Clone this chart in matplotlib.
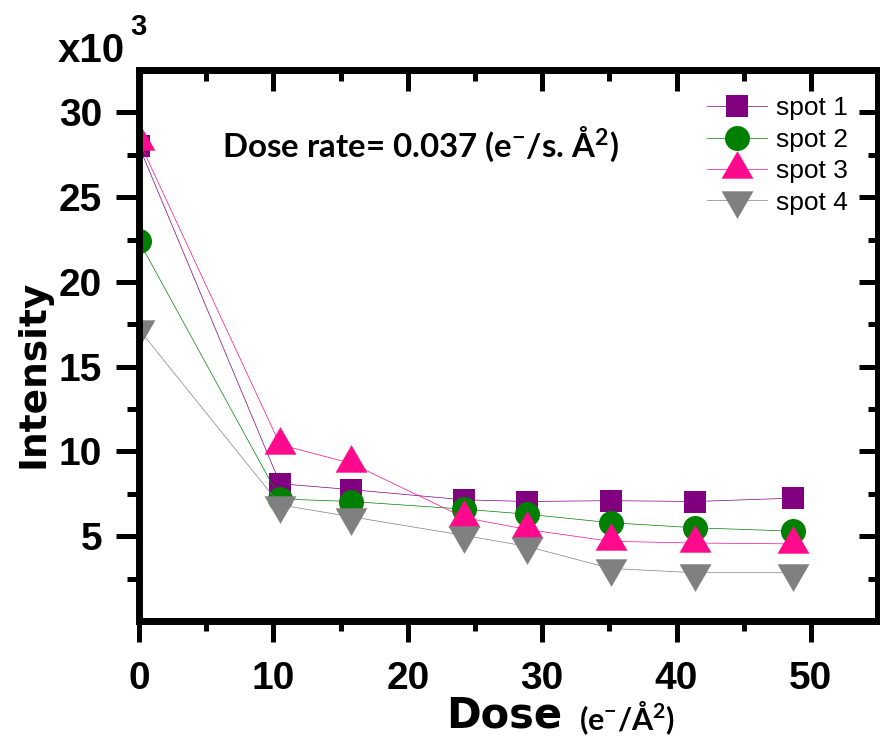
import matplotlib
matplotlib.use('Agg')
import matplotlib.pyplot as plt
from matplotlib.ticker import FixedLocator
from matplotlib.font_manager import FontProperties

# ---- data ----
dose = [0, 10.5, 15.8, 24.2, 28.9, 35.1, 41.4, 48.7]
spot1 = [28.0, 8.1, 7.75, 7.15, 7.05, 7.1, 7.05, 7.25]
spot2 = [22.4, 7.2, 7.05, 6.6, 6.3, 5.8, 5.5, 5.3]
spot3 = [28.3, 10.4, 9.3, 6.1, 5.4, 4.7, 4.6, 4.55]
spot4 = [17.2, 6.85, 6.15, 5.05, 4.4, 3.1, 2.85, 2.85]
series = [spot1, spot2, spot3, spot4]
labels = ['spot 1', 'spot 2', 'spot 3', 'spot 4']
colors = ['#800080', '#008000', '#FF0A8C', '#808080']
x_major = [0, 10, 20, 30, 40, 50]
x_minor = [5, 15, 25, 35, 45]
y_major = [5, 10, 15, 20, 25, 30]
y_minor = [2.5, 7.5, 12.5, 17.5, 22.5, 27.5]

plt.rcParams['mathtext.default'] = 'regular'

fig = plt.figure(figsize=(8.8, 7.38), dpi=100)
ax = fig.add_axes([0.158, 0.1585, 0.8398, 0.7466])

up = [(0, 1.1547), (-1, -0.5774), (1, -0.5774)]
down = [(0, -1.1547), (-1, 0.5774), (1, 0.5774)]
markers = ['s', 'o', up, down]
msizes = [16.5, 18, 26.5, 26.5]

for s, lab, c, m, ms in zip(series, labels, colors, markers, msizes):
    ax.plot(dose, s, color=c, lw=0.5, marker=m, ms=ms, mec=c, mew=0, label=lab)

ax.set_xlim(0, 55)
ax.set_ylim(0, 32.5)
ax.xaxis.set_major_locator(FixedLocator(x_major))
ax.xaxis.set_minor_locator(FixedLocator(x_minor))
ax.yaxis.set_major_locator(FixedLocator(y_major))
ax.yaxis.set_minor_locator(FixedLocator(y_minor))

for sp in ax.spines.values():
    sp.set_linewidth(5)

tick_fp = FontProperties(family='Liberation Sans', weight='bold', size=28)
ax.tick_params(axis='x', which='major', direction='out', length=15, width=3.6, pad=14)
ax.tick_params(axis='x', which='minor', direction='out', length=7.5, width=3.6)
ax.tick_params(axis='y', which='major', direction='out', length=16.5, width=3.6, pad=10)
ax.tick_params(axis='y', which='minor', direction='out', length=8.5, width=3.6)
for lbl in ax.get_xticklabels() + ax.get_yticklabels():
    lbl.set_fontproperties(tick_fp)

# inward ticks on top and right
secx = ax.secondary_xaxis('top')
secx.xaxis.set_major_locator(FixedLocator(x_major))
secx.xaxis.set_minor_locator(FixedLocator(x_minor))
secx.tick_params(axis='x', which='major', direction='in', length=15, width=3.6, labeltop=False)
secx.tick_params(axis='x', which='minor', direction='in', length=8, width=3.6)
secx.spines['top'].set_linewidth(5)
secy = ax.secondary_yaxis('right')
secy.yaxis.set_major_locator(FixedLocator(y_major))
secy.yaxis.set_minor_locator(FixedLocator(y_minor))
secy.tick_params(axis='y', which='major', direction='in', length=14, width=3.6, labelright=False)
secy.tick_params(axis='y', which='minor', direction='in', length=7, width=3.6)
secy.spines['right'].set_linewidth(5)

ax.set_ylabel('Intensity', family='DejaVu Sans', weight='bold', fontsize=27)
ax.yaxis.set_label_coords(-0.118, 0.448)

fig.text(58 / 880, 1 - 62 / 738, 'x10', family='Liberation Sans', weight='bold',
         fontsize=29, va='baseline', ha='left')
fig.text(130 / 880, 1 - 35 / 738, '3', family='Liberation Sans', weight='bold',
         fontsize=21, va='baseline', ha='left')

fig.text(446 / 880, 1 - 737 / 738, 'Dose', family='DejaVu Sans', weight='bold',
         fontsize=30, va='bottom', ha='left')
fig.text(579 / 880, 1 - 737 / 738, '(e$^{-}$/Å$^{2}$)', family='Lato', weight='bold',
         fontsize=22, va='bottom', ha='left')

ax.text(0.112, 0.842, 'Dose rate= 0.037 (e$^{-}$/s. Å$^{2}$)', transform=ax.transAxes,
        family='Lato', weight='bold', fontsize=23.8, va='baseline', ha='left')

leg = ax.legend(loc='upper right', bbox_to_anchor=(0.9594, 0.952), frameon=False,
                prop=dict(family='Liberation Sans', size=19), handlelength=2.27,
                handletextpad=0.34, labelspacing=0.28, borderpad=0, borderaxespad=0)

fig.savefig('out.png', dpi=100)
